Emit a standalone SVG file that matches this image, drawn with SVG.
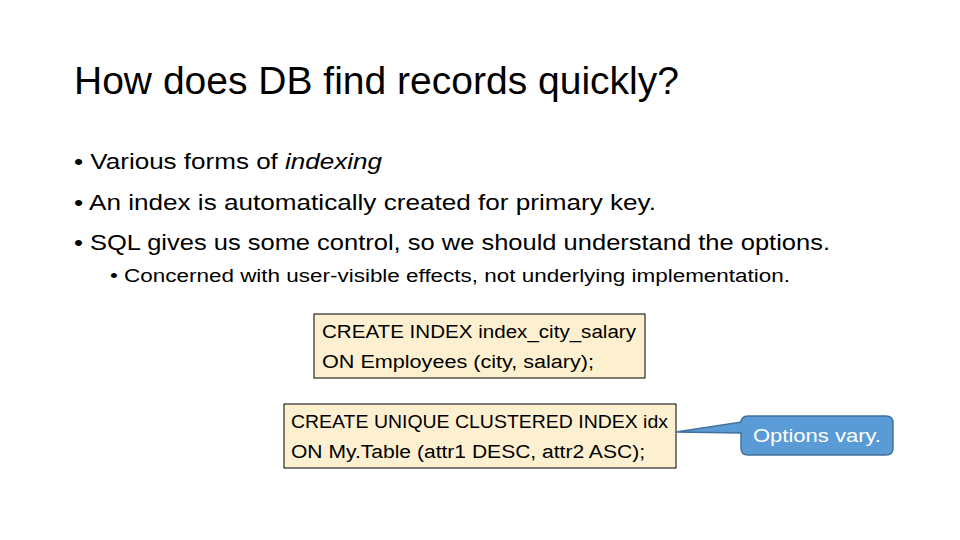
<svg xmlns="http://www.w3.org/2000/svg" width="960" height="540" viewBox="0 0 960 540">
<style>
text{font-family:"Liberation Sans","Open Sans",sans-serif;fill:#000}
.b{font-size:22px}
.c{font-size:18px}
.box{fill:#fdf0d0;stroke:#000;stroke-width:1}
</style>
<rect width="960" height="540" fill="#fff"/>
<text x="74" y="94" font-size="38" fill="#222" textLength="605" lengthAdjust="spacingAndGlyphs" style="font-size:38px">How does DB find records quickly?</text>
<text class="b" x="74" y="169" textLength="308" lengthAdjust="spacingAndGlyphs">• Various forms of <tspan font-style="italic">indexing</tspan></text>
<text class="b" x="74" y="210" textLength="582" lengthAdjust="spacingAndGlyphs">• An index is automatically created for primary key.</text>
<text class="b" x="74" y="250" textLength="756" lengthAdjust="spacingAndGlyphs">• SQL gives us some control, so we should understand the options.</text>
<text x="110" y="282" style="font-size:18px" textLength="680" lengthAdjust="spacingAndGlyphs">• Concerned with user-visible effects, not underlying implementation.</text>
<g id="index1">
<rect class="box" x="314" y="314" width="331" height="64"/>
<text class="c" x="322" y="338" textLength="314" lengthAdjust="spacingAndGlyphs">CREATE INDEX index_city_salary</text>
<text class="c" x="322" y="368" textLength="272" lengthAdjust="spacingAndGlyphs">ON Employees (city, salary);</text>
</g>
<g id="index2">
<rect class="box" x="284" y="404" width="392" height="64"/>
<text class="c" x="291" y="428" textLength="377" lengthAdjust="spacingAndGlyphs">CREATE UNIQUE CLUSTERED INDEX idx</text>
<text class="c" x="291" y="458" textLength="354" lengthAdjust="spacingAndGlyphs">ON My.Table (attr1 DESC, attr2 ASC);</text>
</g>
<g id="callout">
<path d="M748,416 H886 Q893,416 893,423 V448 Q893,455 886,455 H748 Q741,455 741,448 V433 L676,432 L741,422 V423 Q741,416 748,416 Z" fill="#5b9bd5" stroke="#41719c" stroke-width="1.5"/>
<text x="817" y="442" text-anchor="middle" style="font-size:18px;fill:#fff" textLength="128" lengthAdjust="spacingAndGlyphs">Options vary.</text>
</g>
</svg>
